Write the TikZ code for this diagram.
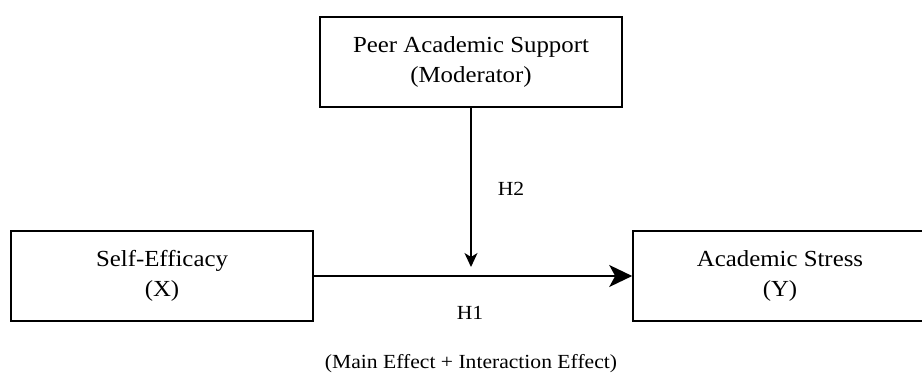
\documentclass[tikz,border=0pt]{standalone}
\usepackage{fontspec}
\setmainfont{Liberation Serif}[FakeStretch=1.08]
\usetikzlibrary{arrows.meta}
\begin{document}
\begin{tikzpicture}[x=1pt,y=-1pt,
  txt/.style={font=\fontsize{23}{30}\selectfont},
  box/.style={draw, line width=1.6pt, minimum width=302pt, minimum height=90pt,
    inner sep=0pt, align=center, txt},
  lbl/.style={font=\fontsize{20}{26}\selectfont, inner sep=0pt},
  conn/.style={line width=1.6pt}]
\useasboundingbox (0,0) rectangle (922,374);
\clip (0,0) rectangle (922,374);
\node[box] (peer) at (471,62) {Peer Academic Support\\(Moderator)};
\node[box] (self) at (162,276) {Self-Efficacy\\(X)};
\node[box, minimum width=294pt] (stress) at (780,276) {Academic Stress\\(Y)};
\coordinate (mid) at (471,267);
\draw[conn, -{Stealth[length=14pt, width=13pt, inset=4pt]}] (peer.south) -- (mid);
\draw[conn, -{Stealth[length=23pt, width=22pt, inset=6pt]}] (self.east) -- (stress.west);
\node[lbl, anchor=base] (h2) at (511,196) {H2};
\node[lbl, anchor=base] (h1) at (470,320) {H1};
\node[lbl, anchor=base] (note) at (471,368) {(Main Effect + Interaction Effect)};
\end{tikzpicture}
\end{document}
